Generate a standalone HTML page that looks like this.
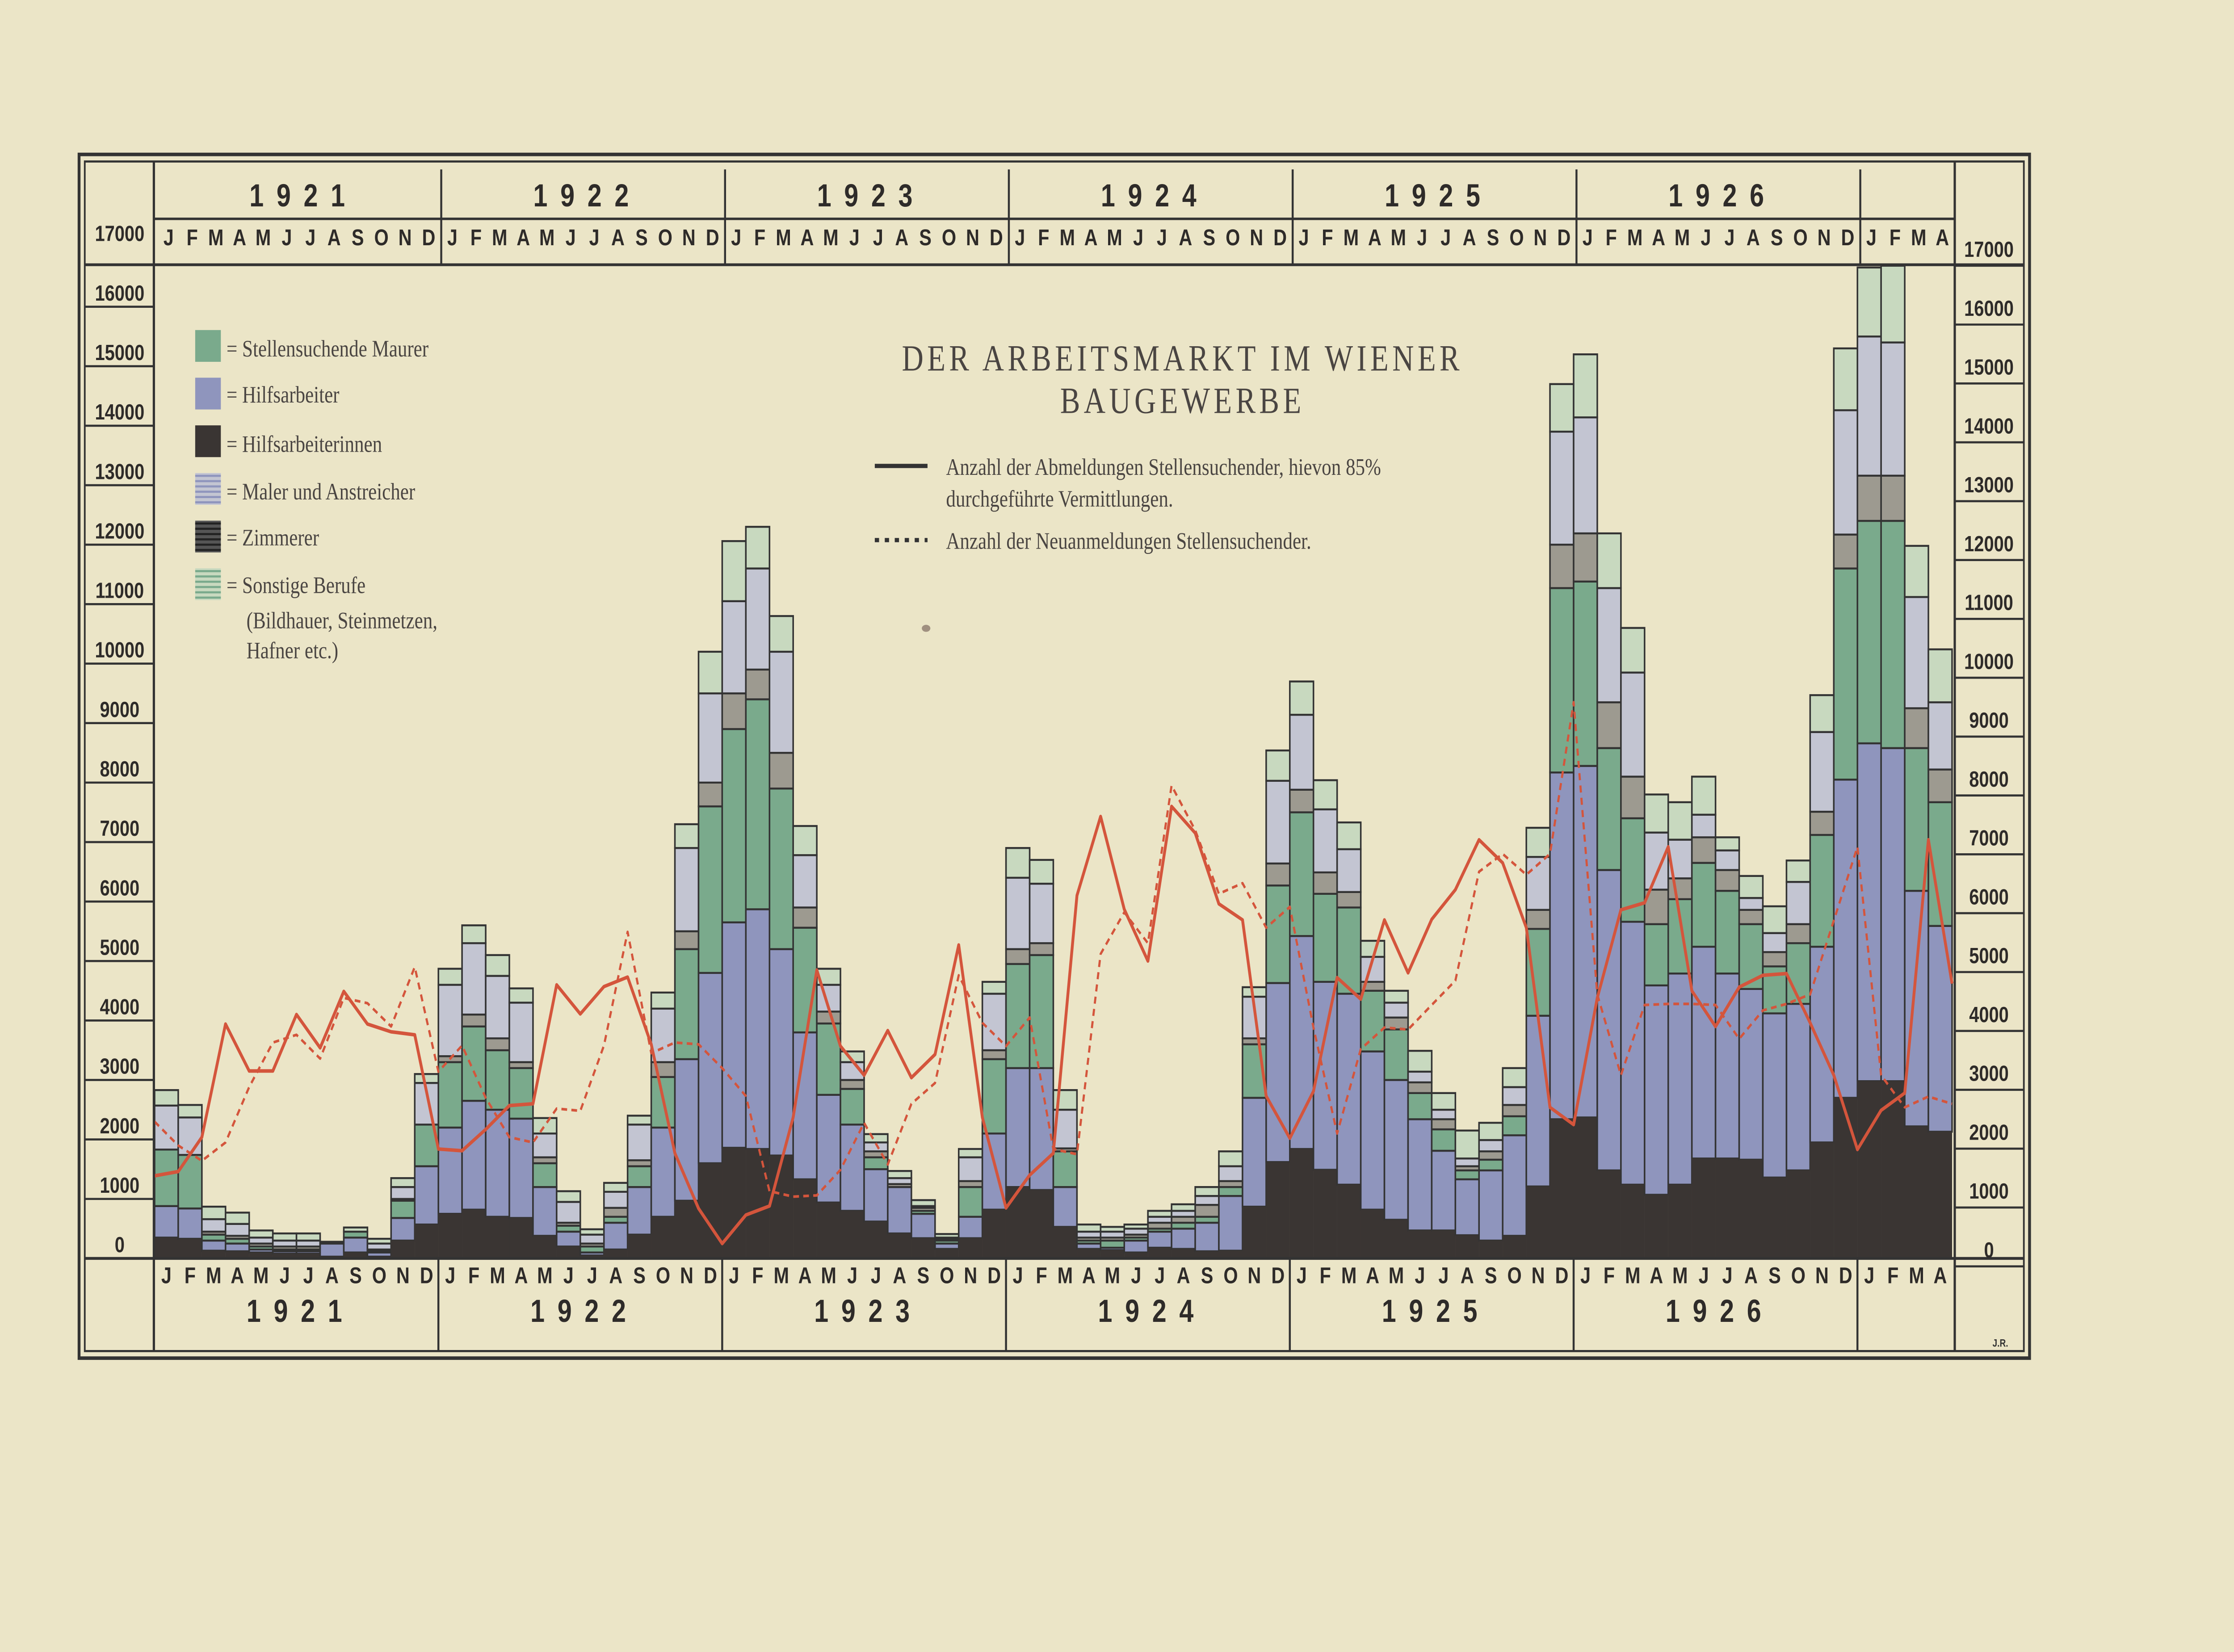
<!DOCTYPE html>
<html><head><meta charset="utf-8">
<style>
html,body{margin:0;padding:0;background:#ebe5c7;width:100%;height:100%;overflow:hidden;}
svg{display:block;position:absolute;left:0;top:0;width:100vw;height:100vh;}
.ax{font-family:"Liberation Sans",sans-serif;font-weight:bold;font-size:12.5px;fill:#2e2b29;text-anchor:middle;}
.mo{font-family:"Liberation Sans",sans-serif;font-weight:bold;font-size:13px;fill:#2e2b29;text-anchor:middle;}
.yr{font-family:"Liberation Sans",sans-serif;font-weight:bold;font-size:18px;fill:#2e2b29;text-anchor:middle;letter-spacing:9px;}
.se{font-family:"Liberation Serif",serif;fill:#4a4542;}
</style></head>
<body>
<svg id="s" viewBox="0 0 1568 936" preserveAspectRatio="none" xmlns="http://www.w3.org/2000/svg">
<rect x="0" y="0" width="1568" height="936" fill="#ebe5c7"/>
<g id="bars"></g>
<g id="grid" stroke="#333" fill="none"></g>
<g id="txt"></g>
<rect x="55.5" y="87.5" width="1369" height="682" fill="none" stroke="#333" stroke-width="2"/>
<rect x="59.5" y="91.5" width="1361" height="674" fill="none" stroke="#333" stroke-width="1.2"/>
<text class="se" x="830" y="210" font-size="21" text-anchor="middle" letter-spacing="2.6">DER ARBEITSMARKT IM WIENER</text>
<text class="se" x="830" y="234" font-size="21" text-anchor="middle" letter-spacing="2.6">BAUGEWERBE</text>
<line x1="614" y1="264" x2="651" y2="264" stroke="#333" stroke-width="2.4"/>
<text class="se" x="664" y="269" font-size="13.5">Anzahl der Abmeldungen Stellensuchender, hievon 85%</text>
<text class="se" x="664" y="287" font-size="13.5">durchgeführte Vermittlungen.</text>
<line x1="614" y1="306" x2="651" y2="306" stroke="#333" stroke-width="2.4" stroke-dasharray="3,4"/>
<text class="se" x="664" y="311" font-size="13.5">Anzahl der Neuanmeldungen Stellensuchender.</text>
<rect x="137" y="187" width="18" height="18" fill="#7aaa8c"/>
<rect x="137" y="214" width="18" height="18" fill="#8f95bd"/>
<rect x="137" y="241" width="18" height="18" fill="#3a3533"/>
<g id="hl"></g>
<g class="se" font-size="13.5">
<text x="159" y="202">= Stellensuchende Maurer</text>
<text x="159" y="228">= Hilfsarbeiter</text>
<text x="159" y="256">= Hilfsarbeiterinnen</text>
<text x="159" y="283">= Maler und Anstreicher</text>
<text x="159" y="309">= Zimmerer</text>
<text x="159" y="336">= Sonstige Berufe</text>
<text x="173" y="356">(Bildhauer, Steinmetzen,</text>
<text x="173" y="373">Hafner etc.)</text>
</g>
<text x="1404" y="763" font-family="Liberation Sans,sans-serif" font-size="6" font-weight="bold" fill="#333" text-anchor="middle">J.R.</text>
<ellipse cx="650" cy="356" rx="3" ry="2" fill="#a09080"/>
</svg>
<script>
(function(){
var NS="http://www.w3.org/2000/svg";
function el(p,n,a,t){var e=document.createElementNS(NS,n);for(var k in a)e.setAttribute(k,a[k]);if(t!==undefined)e.textContent=t;p.appendChild(e);return e;}
var D=[[.35,.88,1.83,1.83,2.57,2.83],[.33,.84,1.74,1.74,2.37,2.58],[.13,.3,.4,.45,.66,.87],[.12,.25,.33,.38,.58,.77],[.1,.15,.2,.25,.35,.47],[.08,.12,.15,.2,.3,.42],[.08,.12,.15,.2,.3,.42],[.03,.25,.25,.25,.25,.28],[.1,.35,.45,.45,.45,.52],[.03,.1,.12,.15,.25,.33],[.3,.68,.97,1.0,1.2,1.35],[.57,1.55,2.25,2.25,2.95,3.1],
[.75,2.2,3.3,3.4,4.6,4.87],[.82,2.65,3.9,4.1,5.3,5.6],[.7,2.5,3.5,3.7,4.75,5.1],[.68,2.35,3.2,3.3,4.3,4.54],[.38,1.2,1.6,1.7,2.1,2.36],[.2,.45,.55,.6,.95,1.13],[.05,.1,.2,.25,.4,.49],[.15,.6,.7,.85,1.12,1.27],[.4,1.2,1.55,1.65,2.25,2.4],[.7,2.2,3.05,3.3,4.2,4.47],[.97,3.35,5.2,5.5,6.9,7.3],[1.6,4.8,7.6,8.0,9.5,10.2],
[1.86,5.65,8.9,9.5,11.05,12.06],[1.84,5.87,9.4,9.9,11.6,12.3],[1.73,5.2,7.9,8.5,10.2,10.8],[1.33,3.8,5.56,5.9,6.78,7.27],[.94,2.75,3.95,4.15,4.6,4.87],[.8,2.25,2.85,3.0,3.3,3.48],[.62,1.5,1.7,1.8,1.95,2.09],[.42,1.2,1.2,1.25,1.35,1.47],[.34,.75,.8,.85,.88,.98],[.16,.25,.3,.32,.35,.41],[.34,.7,1.2,1.3,1.7,1.84],[.82,2.1,3.35,3.5,4.45,4.65],
[1.2,3.2,4.95,5.2,6.4,6.9],[1.15,3.2,5.1,5.3,6.3,6.7],[.53,1.2,1.8,1.85,2.5,2.83],[.16,.25,.3,.35,.45,.57],[.14,.18,.3,.35,.45,.53],[.1,.3,.35,.4,.5,.57],[.18,.45,.5,.6,.7,.8],[.16,.5,.6,.7,.8,.91],[.12,.6,.7,.9,1.05,1.2],[.13,1.05,1.2,1.3,1.55,1.8],[.87,2.7,3.6,3.7,4.4,4.56],[1.62,4.63,6.27,6.64,8.03,8.54],
[1.84,5.42,7.5,7.88,9.14,9.7],[1.49,4.65,6.13,6.49,7.55,8.04],[1.24,4.45,5.9,6.16,6.88,7.33],[.82,3.48,4.5,4.65,5.07,5.34],[.65,3.0,3.85,4.05,4.3,4.5],[.47,2.34,2.78,2.96,3.14,3.49],[.47,1.81,2.17,2.34,2.5,2.78],[.39,1.33,1.48,1.55,1.68,2.15],[.3,1.48,1.66,1.8,1.99,2.28],[.38,2.07,2.39,2.58,2.88,3.2],[1.21,4.08,5.54,5.86,6.75,7.24],[2.34,8.17,11.27,12.0,13.9,14.7],
[2.37,8.28,11.38,12.19,14.14,15.2],[1.48,6.53,8.58,9.35,11.27,12.19],[1.24,5.66,7.4,8.1,9.85,10.6],[1.07,4.59,5.62,6.2,7.16,7.8],[1.24,4.79,6.04,6.39,7.04,7.67],[1.68,5.24,6.65,7.08,7.46,8.1],[1.68,4.79,6.18,6.53,6.86,7.08],[1.66,4.53,5.62,5.86,6.06,6.43],[1.36,4.12,4.91,5.15,5.47,5.92],[1.48,4.28,5.3,5.62,6.33,6.69],[1.95,5.24,7.12,7.51,8.85,9.47],[2.7,8.05,11.6,12.17,14.26,15.3],
[2.98,8.66,12.4,13.16,15.5,16.66],[2.98,8.58,12.4,13.16,15.4,16.69],[2.22,6.18,8.58,9.25,11.12,11.98],[2.13,5.59,7.67,8.22,9.35,10.24]];
var SOL=[1.39,1.46,2.04,3.94,3.15,3.15,4.1,3.54,4.49,3.94,3.81,3.76,1.84,1.81,2.17,2.57,2.6,4.6,4.11,4.57,4.73,3.6,1.77,0.84,0.25,0.73,0.88,2.37,4.85,3.57,3.08,3.83,3.04,3.43,5.27,2.37,0.85,1.4,1.77,6.1,7.43,5.87,5.0,7.6,7.15,5.96,5.69,2.73,2.02,2.81,4.72,4.36,5.69,4.8,5.7,6.2,7.04,6.65,5.56,2.54,2.25,4.38,5.86,5.98,6.92,4.5,3.9,4.56,4.76,4.79,3.96,3.08,1.83,2.49,2.78,7.04,4.62];
var DSH=[2.3,1.9,1.64,1.95,2.88,3.63,3.76,3.36,4.38,4.29,3.9,4.9,3.14,3.58,2.7,2.04,1.95,2.52,2.48,3.58,5.49,3.45,3.63,3.6,3.2,2.73,1.13,1.04,1.06,1.49,2.28,1.58,2.6,2.95,4.76,3.96,3.57,4.05,1.84,1.75,5.12,5.82,5.3,7.95,7.2,6.13,6.31,5.56,5.91,3.88,2.1,3.52,3.88,3.85,4.26,4.67,6.5,6.8,6.45,6.8,9.35,4.44,3.08,4.26,4.28,4.28,4.26,3.69,4.17,4.28,4.44,5.68,6.92,3.08,2.54,2.72,2.6];
var X0=108.5,W=16.6,Y0=713,K=33.7;
function X(i){return X0+i*W;}function Y(v){return Y0-K*v;}
var bars=document.getElementById('bars');
var cols=['#3a3533','#8f95bd','#7aaa8c','#9d9a90','#c3c5d2','#c8d9bf'];
for(var i=0;i<D.length;i++){var d=D[i],lo=0;
 for(var s=0;s<6;s++){var hi=d[s];if(hi>lo){el(bars,'rect',{x:X(i),y:Y(hi),width:W,height:Y(lo)-Y(hi),fill:cols[s],stroke:s==0?'none':'#333','stroke-width':s==0?0:1.1});}lo=Math.max(lo,hi);}
 el(bars,'rect',{x:X(i),y:Y(d[0]),width:W,height:Y(0)-Y(d[0]),fill:'#3a3533'});
}
function pl(arr,dash){var p=arr.map(function(v,i){return X(i).toFixed(1)+','+Y(v).toFixed(1);}).join(' ');
 var a={points:p,fill:'none',stroke:'#d4553c','stroke-width':dash?1.5:2,'stroke-linejoin':'round'};if(dash)a['stroke-dasharray']='4,3';el(bars,'polyline',a);}
pl(DSH,true);pl(SOL,false);
var g=document.getElementById('grid'),t=document.getElementById('txt');
el(g,'line',{x1:59,y1:150,x2:1421,y2:150,'stroke-width':1.6});
el(g,'line',{x1:108,y1:124,x2:1372,y2:124,'stroke-width':1.4});
el(g,'line',{x1:59,y1:713,x2:1421,y2:713,'stroke-width':1.6});
el(g,'line',{x1:108,y1:91,x2:108,y2:766,'stroke-width':1.6});
el(g,'line',{x1:1372,y1:91,x2:1372,y2:766,'stroke-width':1.6});
var mons="JFMAMJJASOND";
for(var y=0;y<=6;y++){var xs=X(12*y);
 if(y>0){el(g,'line',{x1:xs+2,y1:96,x2:xs+2,y2:150,'stroke-width':1.4});el(g,'line',{x1:xs,y1:713,x2:xs,y2:766,'stroke-width':1.4});}
 var n=(y==6)?4:12;
 for(var m=0;m<n;m++){var cx=X(12*y+m)+W/2;
  el(t,'text',{x:cx+1.5,y:139,'class':'mo'},mons[m]);el(t,'text',{x:cx,y:727,'class':'mo'},mons[m]);}
 if(y<6){var yc=X(12*y+6);el(t,'text',{x:yc+5,y:117,'class':'yr'},''+(1921+y));el(t,'text',{x:yc+3,y:749,'class':'yr'},''+(1921+y));}
}
for(var k=0;k<=17;k++){var ly=Y0-K*k;
 if(k<=16)el(g,'line',{x1:59,y1:ly,x2:108,y2:ly,'stroke-width':1.2});
 el(t,'text',{x:84,y:ly-3.5,'class':'ax'},k==0?'0':(k*1000)+'');
 var ry=708-33.35*k+4.5;
 el(g,'line',{x1:1372,y1:ry+5,x2:1421,y2:ry+5,'stroke-width':1.2});
 el(t,'text',{x:1396,y:ry,'class':'ax'},k==0?'0':(k*1000)+'');
}
var hl=document.getElementById('hl');
function sw(y,c1,c2){el(hl,'rect',{x:137,y:y,width:18,height:18,fill:c1});for(var j=0;j<6;j++)el(hl,'rect',{x:137,y:y+1+j*3,width:18,height:1.2,fill:c2});}
sw(268,'#c3c5d2','#8f95bd');sw(295,'#555','#222');sw(322,'#c8d9bf','#7aaa8c');
})();
</script>
</body></html>
